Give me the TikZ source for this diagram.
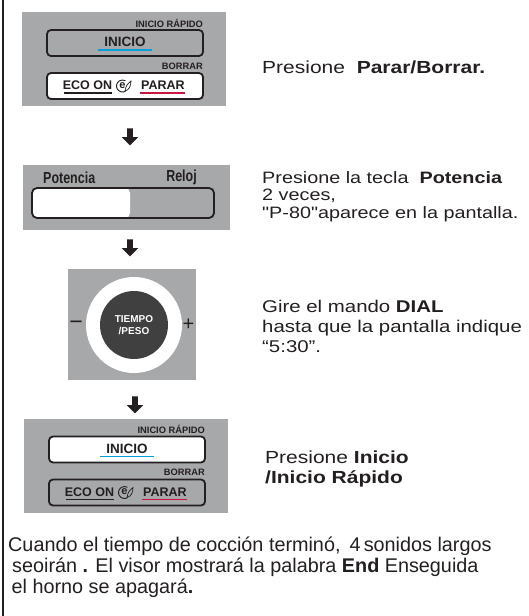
\documentclass[tikz,border=0pt]{standalone}
\usepackage{fontspec}
\setmainfont{Liberation Sans}
\newfontfamily\widefont{Liberation Sans}[FakeStretch=1.2]
\newfontfamily\narrowfont{Liberation Sans}[FakeStretch=0.78]
\usetikzlibrary{shapes.arrows}
\tikzset{>=latex}
\definecolor{panelgray}{RGB}{167,168,170}
\definecolor{dialdark}{RGB}{64,64,65}
\definecolor{inkblack}{RGB}{35,31,32}
\definecolor{linecyan}{RGB}{0,160,220}
\definecolor{linered}{RGB}{205,20,70}
\def\buttonwidth{1.8pt}

\tikzset{
  panel/.style={fill=panelgray, draw=none, inner sep=0pt},
  button/.style={draw=inkblack, line width=\buttonwidth, rounded corners=4pt, minimum width=156pt, minimum height=26pt, inner sep=0pt},
  keylabel/.style={font=\bfseries\fontsize{9.3}{10}\selectfont, text=inkblack, inner sep=0pt, anchor=east},
  keytext/.style={font=\bfseries\fontsize{12.5}{13}\selectfont, text=inkblack, inner sep=0pt},
  underline/.style={line width=1.6pt},
  blockarrow/.style={single arrow, fill=inkblack, draw=none, inner sep=2.6pt, single arrow head extend=5.4pt, single arrow tip angle=90, single arrow head indent=0pt, minimum height=17pt, rotate=-90},
  steptext/.style={text=inkblack, anchor=base west, align=left, inner sep=0pt},
}

% control panel: #1 name, #2/#3 shift, #4 inicio fill, #5 eco fill
\newcommand{\ctrlpanel}[5]{%
  \begin{scope}[shift={(#2,#3)}]
    \node[panel, minimum width=204pt, minimum height=94pt] (#1) at (124,59) {};
    \node[keylabel] (#1-rapido) at (203,23) {INICIO RÁPIDO};
    \node[button, fill=#4] (#1-inicio) at (125,43) {};
    \node[keytext, font=\bfseries\fontsize{13.5}{14}\selectfont] (#1-iniciotxt) at (125,42) {INICIO};
    \draw[underline, linecyan] (98,50) -- (152,50);
    \node[keylabel] (#1-borrar) at (203,66) {BORRAR};
    \node[button, fill=#5] (#1-eco) at (125,86) {};
    \node[keytext] (#1-ecotxt) at (87.5,85.5) {ECO ON};
    \draw[underline, inkblack] (64,93) -- (112,93);
    \node[keytext, font=\bfseries\fontsize{11}{11}\selectfont] (#1-e) at (122.5,85.5) {e};
    \draw[line width=0.9pt, inkblack] (122.5,86) ++(60:6) arc (60:300:6);
    \draw[line width=0.7pt, inkblack] (125,91) .. controls (126,85) and (128,83) .. (131,81)
      .. controls (131,86) and (129,90) .. (125,91);
    \node[keytext] (#1-parartxt) at (163,85.5) {PARAR};
    \draw[underline, linered] (140,93) -- (185,93);
  \end{scope}}

\begin{document}
\begin{tikzpicture}[x=1pt, y=-1pt]
  \useasboundingbox (0,0) rectangle (529,616);
  \draw[line width=1.4pt, inkblack] (3,0) -- (3,616);

  % step 1
  \ctrlpanel{stopA}{0}{0}{panelgray}{white}
  \node[steptext, font=\widefont\fontsize{17.5}{19}\selectfont] (textA) at (262,73) {Presione\ \ \textbf{Parar/Borrar.}};
  \node[blockarrow] (arrowA) at (130,135.5) {};

  % step 2
  \node[panel, minimum width=207pt, minimum height=65pt] (powerpanel) at (126.5,197.5) {};
  \node[font=\narrowfont\bfseries\fontsize{16}{16}\selectfont, text=inkblack, anchor=west, inner sep=0pt] (potencia) at (43,177.5) {Potencia};
  \node[font=\narrowfont\bfseries\fontsize{16}{16}\selectfont, text=inkblack, anchor=east, inner sep=0pt] (reloj) at (197,177.5) {Reloj};
  \node[draw=inkblack, line width=\buttonwidth, rounded corners=5pt, minimum width=182pt, minimum height=30pt, inner sep=0pt,
        path picture={\fill[white] (path picture bounding box.north west) rectangle ([xshift=-84pt]path picture bounding box.south east);}] (displaybar) at (123,203) {};
  \node[steptext, font=\widefont\fontsize{16.5}{17.5}\selectfont] (textB) at (262,218) {Presione la tecla\ \ \textbf{Potencia}\\2 veces,\\"P-80"aparece en la pantalla.};
  \node[blockarrow] (arrowB) at (130,246.5) {};

  % step 3
  \node[panel, minimum width=128pt, minimum height=111pt] (dialpanel) at (132,324.5) {};
  \node[circle, fill=white, minimum size=96pt, inner sep=0pt] (dialring) at (134,325) {};
  \node[circle, fill=dialdark, minimum size=68pt, inner sep=0pt, text=white, align=center,
        font=\bfseries\fontsize{10}{12}\selectfont] (dial) at (134,325) {TIEMPO\\/PESO};
  \node[font=\fontsize{23}{23}\selectfont, text=inkblack, inner sep=0pt] (minus) at (76,325) {−};
  \node[font=\fontsize{20}{20}\selectfont, text=inkblack, inner sep=0pt] (plus) at (188.5,325) {+};
  \node[steptext, font=\widefont\fontsize{17}{20}\selectfont] (textC) at (262,352) {Gire el mando \textbf{DIAL}\\hasta que la pantalla indique\\“5:30”.};
  \node[blockarrow] (arrowC) at (135,403.5) {};

  % step 4
  \ctrlpanel{startD}{2}{406.5}{white}{panelgray}
  \node[steptext, font=\widefont\fontsize{17.5}{19.5}\selectfont] (textD) at (265,483) {Presione \textbf{Inicio}\\\textbf{/Inicio Rápido}};

  % closing note
  \node[steptext, font=\fontsize{19.8}{21}\selectfont] (endnote) at (8,593) {Cuando el tiempo de cocción terminó,\hspace{9pt}4\,sonidos largos\\\hspace*{4pt}seoirán \textbf{.} El visor mostrará la palabra \textbf{End} Enseguida\\\hspace*{3.5pt}el horno se apagará\textbf{.}};
\end{tikzpicture}
\end{document}
